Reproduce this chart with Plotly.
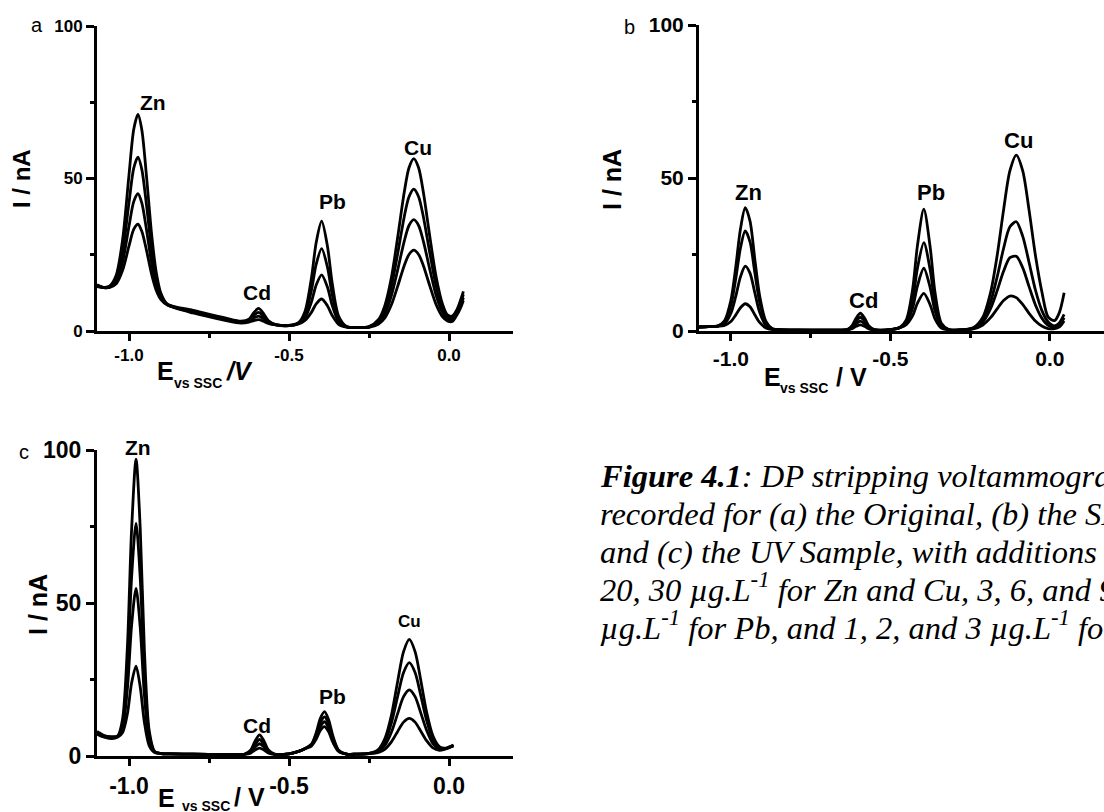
import plotly.graph_objects as go

W, H = 1104, 812

# ---------------- data ----------------
# Panel a : Original sample
E_a = [-1.1, -1.08, -1.06, -1.04, -1.02, -1.0, -0.985, -0.972, -0.96, -0.945, -0.93, -0.915, -0.9, -0.88,
       -0.8, -0.7, -0.65, -0.625, -0.61, -0.595, -0.58, -0.565, -0.54, -0.5, -0.47, -0.45, -0.43, -0.415,
       -0.398, -0.38, -0.365, -0.345, -0.32, -0.29, -0.25, -0.22, -0.2, -0.18, -0.16, -0.14, -0.125, -0.11,
       -0.095, -0.08, -0.06, -0.04, -0.02, -0.005, 0.01, 0.025, 0.035, 0.045]
I_a1 = [15.2, 14.3, 14.8, 18.3, 29.9, 51.2, 66.2, 71.0, 66.0, 50.4, 32.4, 19.3, 12.3, 8.8, 6.8, 4.3, 3.2, 3.85,
        6.0, 7.4, 5.8, 3.45, 2.05, 1.8, 2.75, 6.4, 17.3, 29.0, 36.0, 27.9, 15.7, 4.9, 1.46, 1.1, 1.44, 3.8, 8.5,
        17.5, 31.0, 45.4, 53.5, 56.5, 53.5, 45.4, 31.0, 17.6, 8.7, 5.3, 4.9, 7.1, 9.8, 13.0]
I_a2 = [15.0, 14.3, 14.6, 17.2, 26.0, 42.1, 53.5, 57.0, 53.0, 41.0, 27.2, 17.0, 11.5, 8.7, 6.5, 4.0, 3.0, 3.5,
        5.1, 6.1, 4.9, 3.1, 2.0, 1.8, 2.6, 5.4, 13.3, 21.9, 27.0, 21.0, 12.0, 4.0, 1.4, 1.1, 1.36, 3.3, 7.1,
        14.6, 25.6, 37.4, 44.0, 46.5, 44.0, 37.4, 25.6, 14.6, 7.3, 4.6, 4.3, 6.5, 8.8, 12.0]
I_a3 = [14.8, 14.2, 14.4, 16.3, 22.7, 34.4, 42.5, 45.0, 42.0, 33.0, 22.7, 15.0, 10.8, 8.6, 6.2, 3.8, 2.8, 3.2,
        4.3, 4.9, 4.1, 2.8, 2.0, 1.8, 2.5, 4.4, 9.5, 15.1, 18.4, 14.4, 8.4, 3.1, 1.33, 1.1, 1.28, 2.8, 5.8,
        11.6, 20.2, 29.4, 34.6, 36.5, 34.6, 29.4, 20.2, 11.6, 6.0, 3.9, 3.7, 5.9, 8.0, 11.0]
I_a4 = [14.6, 14.2, 14.3, 15.5, 19.9, 27.9, 33.4, 35.0, 32.7, 26.3, 18.9, 13.4, 10.3, 8.5, 5.9, 3.5, 2.6, 2.9,
        3.4, 3.7, 3.2, 2.5, 2.0, 1.8, 2.35, 3.5, 6.1, 8.9, 10.5, 8.3, 5.1, 2.2, 1.27, 1.1, 1.2, 2.3, 4.4,
        8.6, 14.8, 21.4, 25.1, 26.5, 25.1, 21.4, 14.8, 8.6, 4.6, 3.3, 3.1, 5.3, 7.3, 10.0]

# Panel b
E_b = [-1.1, -1.07, -1.04, -1.02, -1.0, -0.985, -0.97, -0.955, -0.94, -0.925, -0.91, -0.89, -0.87, -0.84,
       -0.75, -0.66, -0.635, -0.62, -0.607, -0.594, -0.58, -0.567, -0.55, -0.5, -0.47, -0.45, -0.43, -0.415,
       -0.395, -0.375, -0.36, -0.34, -0.315, -0.28, -0.24, -0.21, -0.185, -0.165, -0.145, -0.125, -0.105,
       -0.085, -0.065, -0.045, -0.025, -0.005, 0.015, 0.03, 0.045]
I_b1 = [1.3, 1.4, 1.72, 3.3, 10.0, 20.7, 33.3, 40.3, 35.9, 23.5, 11.6, 3.1, 0.75, 0.4, 0.3, 0.3, 0.51, 1.77,
        4.26, 5.8, 4.04, 1.62, 0.43, 0.45, 1.19, 3.64, 13.7, 27.9, 39.8, 27.3, 12.7, 2.54, 0.39, 0.34, 1.07,
        4.53, 12.9, 24.7, 39.5, 52.4, 57.5, 52.4, 39.5, 24.7, 12.9, 4.5, 3.4, 6.0, 12.5]
I_b2 = [1.3, 1.4, 1.68, 3.0, 8.4, 16.9, 27.1, 32.7, 29.1, 19.1, 9.5, 2.6, 0.7, 0.4, 0.3, 0.3, 0.46, 1.42,
        3.32, 4.5, 3.16, 1.31, 0.4, 0.45, 1.14, 3.02, 10.2, 20.5, 28.9, 19.9, 9.2, 1.92, 0.37, 0.34, 0.96,
        3.65, 9.73, 17.7, 26.96, 34.05, 35.7, 31.0, 22.4, 13.4, 6.75, 2.93, 1.7, 2.65, 5.4]
I_b3 = [1.3, 1.4, 1.61, 2.4, 5.8, 11.2, 17.7, 21.2, 18.9, 12.5, 6.2, 1.8, 0.58, 0.4, 0.3, 0.3, 0.41, 1.07,
        2.39, 3.2, 2.27, 1.0, 0.37, 0.45, 1.1, 2.54, 7.6, 14.7, 20.5, 14.1, 6.6, 1.44, 0.35, 0.33, 0.84,
        2.95, 7.5, 13.2, 19.5, 24.0, 24.4, 20.7, 14.5, 8.5, 4.2, 1.86, 1.2, 2.0, 4.35]
I_b4 = [1.3, 1.4, 1.54, 1.86, 3.1, 5.2, 7.6, 8.9, 7.9, 5.3, 2.8, 1.0, 0.47, 0.4, 0.3, 0.3, 0.36, 0.75,
        1.52, 2.0, 1.46, 0.71, 0.34, 0.45, 1.06, 2.07, 5.0, 9.1, 12.3, 8.5, 4.0, 0.97, 0.33, 0.33, 0.67,
        1.95, 4.43, 7.24, 9.97, 11.43, 10.9, 8.69, 5.78, 3.27, 1.63, 0.79, 0.75, 1.35, 3.3]

# Panel c : UV sample
E_c = [-1.1, -1.08, -1.055, -1.035, -1.02, -1.005, -0.992, -0.978, -0.965, -0.952, -0.937, -0.92, -0.9,
       -0.87, -0.8, -0.7, -0.64, -0.62, -0.605, -0.592, -0.579, -0.565, -0.545, -0.5, -0.47, -0.45, -0.43,
       -0.415, -0.402, -0.389, -0.376, -0.363, -0.345, -0.32, -0.29, -0.25, -0.22, -0.2, -0.18, -0.16,
       -0.142, -0.124, -0.106, -0.088, -0.07, -0.05, -0.03, -0.01, 0.014]
I_c1 = [8.0, 6.8, 6.3, 6.6, 12.1, 35.7, 73.7, 97.0, 74.6, 34.9, 8.4, 1.5, 0.8, 0.7, 0.6, 0.5, 0.57, 1.88, 5.1,
        6.9, 5.1, 2.04, 0.59, 0.7, 1.5, 2.43, 3.85, 7.6, 12.3, 14.5, 11.8, 6.6, 1.9, 0.63, 0.6, 0.85, 2.23,
        5.75, 13.3, 24.6, 34.1, 38.1, 34.1, 24.6, 14.4, 6.5, 3.06, 2.6, 3.6]
I_c2 = [7.7, 6.6, 6.1, 6.5, 10.7, 28.9, 58.2, 76.0, 58.4, 27.5, 6.9, 1.4, 0.8, 0.7, 0.6, 0.5, 0.55, 1.56, 4.02,
        5.4, 4.02, 1.68, 0.57, 0.7, 1.5, 2.41, 3.64, 6.9, 10.96, 12.8, 10.46, 5.87, 1.75, 0.63, 0.6, 0.82,
        1.92, 4.72, 10.8, 19.7, 27.3, 30.5, 27.3, 19.7, 11.65, 5.4, 2.7, 2.5, 3.5]
I_c3 = [7.4, 6.4, 5.9, 6.3, 9.3, 22.0, 42.5, 54.8, 42.1, 20.1, 5.3, 1.3, 0.8, 0.7, 0.6, 0.5, 0.54, 1.26, 3.02,
        4.0, 3.02, 1.34, 0.55, 0.7, 1.5, 2.4, 3.44, 6.2, 9.66, 11.2, 9.16, 5.19, 1.61, 0.63, 0.6, 0.79, 1.56,
        3.52, 7.76, 14.0, 19.4, 21.6, 19.4, 14.0, 8.4, 4.0, 2.28, 2.4, 3.4]
I_c4 = [7.1, 6.2, 5.7, 6.2, 7.7, 13.8, 23.8, 29.4, 22.6, 11.1, 3.4, 1.14, 0.8, 0.7, 0.6, 0.5, 0.52, 0.95, 2.01,
        2.6, 2.01, 1.0, 0.53, 0.7, 1.5, 2.38, 3.25, 5.5, 8.37, 9.6, 7.87, 4.5, 1.47, 0.62, 0.6, 0.75, 1.18,
        2.27, 4.62, 8.1, 11.07, 12.3, 11.07, 8.1, 5.0, 2.64, 1.85, 2.33, 3.3]

x_tickvals = [-1.0, -0.5, 0.0]
x_ticktext = ["-1.0", "-0.5", "0.0"]
x_minor = [-0.75, -0.25]
y_tickvals = [0, 50, 100]
y_ticktext = ["0", "50", "100"]
y_minor = [25, 75]

peak_names = ["Zn", "Cd", "Pb", "Cu"]
# label anchor positions in data units (E, I) per panel
peaks_a = [(-0.925, 74.8), (-0.599, 12.5), (-0.364, 42.3), (-0.097, 60.3)]
peaks_b = [(-0.946, 45.1), (-0.584, 10.1), (-0.373, 45.1), (-0.097, 62.4)]
peaks_c = [(-0.972, 99.5), (-0.599, 10.1), (-0.364, 19.3), (-0.125, 43.8)]

caption_lines = [
    "<b>Figure 4.1</b>: DP stripping voltammograms",
    "recorded for (a) the Original, (b) the SPE Sample,",
    "and (c) the UV Sample, with additions of 10,",
    "20, 30 µg.L<sup>-1</sup> for Zn and Cu, 3, 6, and 9",
    "µg.L<sup>-1</sup> for Pb, and 1, 2, and 3 µg.L<sup>-1</sup> for Cd.",
]

# ---------------- figure ----------------
SANS = "Liberation Sans, Arial, sans-serif"
SERIF = "Liberation Serif, Times New Roman, serif"


def fx(px):
    return px / W


def fy(py):
    return 1 - py / H


fig = go.Figure()

panels = [
    ("x", "y", E_a, [I_a1, I_a2, I_a3, I_a4]),
    ("x2", "y2", E_b, [I_b1, I_b2, I_b3, I_b4]),
    ("x3", "y3", E_c, [I_c1, I_c2, I_c3, I_c4]),
]
for xa, ya, E, curves in panels:
    for I in curves:
        fig.add_trace(go.Scatter(
            x=E, y=I, mode="lines", xaxis=xa, yaxis=ya,
            line=dict(color="black", width=2.8, shape="spline", smoothing=0.8),
            showlegend=False, hoverinfo="skip"))


def xaxis_cfg(domain, rng, fsize, anchor):
    return dict(domain=domain, range=rng, anchor=anchor, automargin=False,
                tickmode="array", tickvals=x_tickvals, ticktext=x_ticktext,
                ticks="outside", ticklen=7, tickwidth=2.5, tickcolor="black",
                showline=True, linewidth=3, linecolor="black",
                showgrid=False, zeroline=False,
                minor=dict(tickvals=x_minor, ticks="outside", ticklen=4, tickwidth=2.5, tickcolor="black"),
                tickfont=dict(family=SANS, size=fsize, color="black", weight="bold"))


def yaxis_cfg(domain, fsize, anchor):
    return dict(domain=domain, range=[0, 100], anchor=anchor, automargin=False,
                tickmode="array", tickvals=y_tickvals, ticktext=y_ticktext,
                ticks="outside", ticklen=8, tickwidth=2.5, tickcolor="black",
                showline=True, linewidth=3, linecolor="black",
                showgrid=False, zeroline=False,
                minor=dict(tickvals=y_minor, ticks="outside", ticklen=4, tickwidth=2.5, tickcolor="black"),
                tickfont=dict(family=SANS, size=fsize, color="black", weight="bold"))


fig.update_layout(
    template="none",
    width=W, height=H, margin=dict(l=0, r=0, t=0, b=0, pad=0, autoexpand=False),
    paper_bgcolor="white", plot_bgcolor="white", showlegend=False,
    font=dict(family=SANS, color="black"),
    xaxis=xaxis_cfg([fx(97), fx(513)], [-1.1, 0.2], 17, "y"),
    yaxis=yaxis_cfg([fy(331), fy(26)], 17, "x"),
    xaxis2=xaxis_cfg([fx(699), 1.0], [-1.1, 0.17], 21, "y2"),
    yaxis2=yaxis_cfg([fy(331), fy(25)], 21, "x2"),
    xaxis3=xaxis_cfg([fx(97), fx(513)], [-1.1, 0.2], 23, "y3"),
    yaxis3=yaxis_cfg([fy(756), fy(450)], 23, "x3"),
)

ann = []
# peak labels
for (xr, yr, peaks, size) in [("x", "y", peaks_a, 21), ("x2", "y2", peaks_b, 22), ("x3", "y3", peaks_c, 21)]:
    for name, (ex, iy) in zip(peak_names, peaks):
        s = size
        shift = 0
        if xr == "x3" and name == "Cu":
            s = 17
        if xr == "x3" and name == "Zn":
            shift = 4
        ann.append(dict(x=ex, y=iy, xref=xr, yref=yr, text="<b>%s</b>" % name, showarrow=False, yshift=shift,
                        font=dict(family=SANS, size=s, color="black"), xanchor="center", yanchor="middle"))

# panel letters
for letter, px, py in [("a", 37, 25), ("b", 629, 27), ("c", 24, 452)]:
    ann.append(dict(x=fx(px), y=fy(py), xref="paper", yref="paper", text=letter, showarrow=False,
                    font=dict(family=SANS, size=20, color="black"), xanchor="center", yanchor="middle"))

# y-axis titles
for px, py, s in [(21, 179, 24), (612, 180, 25), (38, 605, 25)]:
    ann.append(dict(x=fx(px), y=fy(py), xref="paper", yref="paper", text="<b>I / nA</b>", textangle=-90,
                    showarrow=False, font=dict(family=SANS, size=s, color="black"),
                    xanchor="center", yanchor="middle"))

# x-axis titles: E, subscript, unit
xt = [
    ((165, 371), (198, 383), (239, 371), "<b><i>/V</i></b>"),
    ((772, 377), (804, 388), (851, 377), "<b>/ V</b>"),
    ((166, 798), (206, 806), (249, 797), "<b>/ V</b>"),
]
for (ex, ey), (sx, sy), (ux, uy), unit in xt:
    ann.append(dict(x=fx(ex), y=fy(ey), xref="paper", yref="paper", text="<b>E</b>", showarrow=False,
                    font=dict(family=SANS, size=25, color="black"), xanchor="center", yanchor="middle"))
    ann.append(dict(x=fx(sx), y=fy(sy), xref="paper", yref="paper", text="<b>vs SSC</b>", showarrow=False,
                    font=dict(family=SANS, size=14, color="black"), xanchor="center", yanchor="middle"))
    ann.append(dict(x=fx(ux), y=fy(uy), xref="paper", yref="paper", text=unit, showarrow=False,
                    font=dict(family=SANS, size=25, color="black"), xanchor="center", yanchor="middle"))

# caption
baselines = [488, 526, 564, 602, 640]
for line, b in zip(caption_lines, baselines):
    ann.append(dict(x=fx(598), y=fy(b + 8), xref="paper", yref="paper", text="<i>%s</i>" % line,
                    showarrow=False, font=dict(family=SERIF, size=32.5, color="black"),
                    xanchor="left", yanchor="bottom", align="left"))

fig.update_layout(annotations=ann)
fig.write_html("out.html", config={"displayModeBar": False},
               post_script="document.body.style.margin='0px';")
